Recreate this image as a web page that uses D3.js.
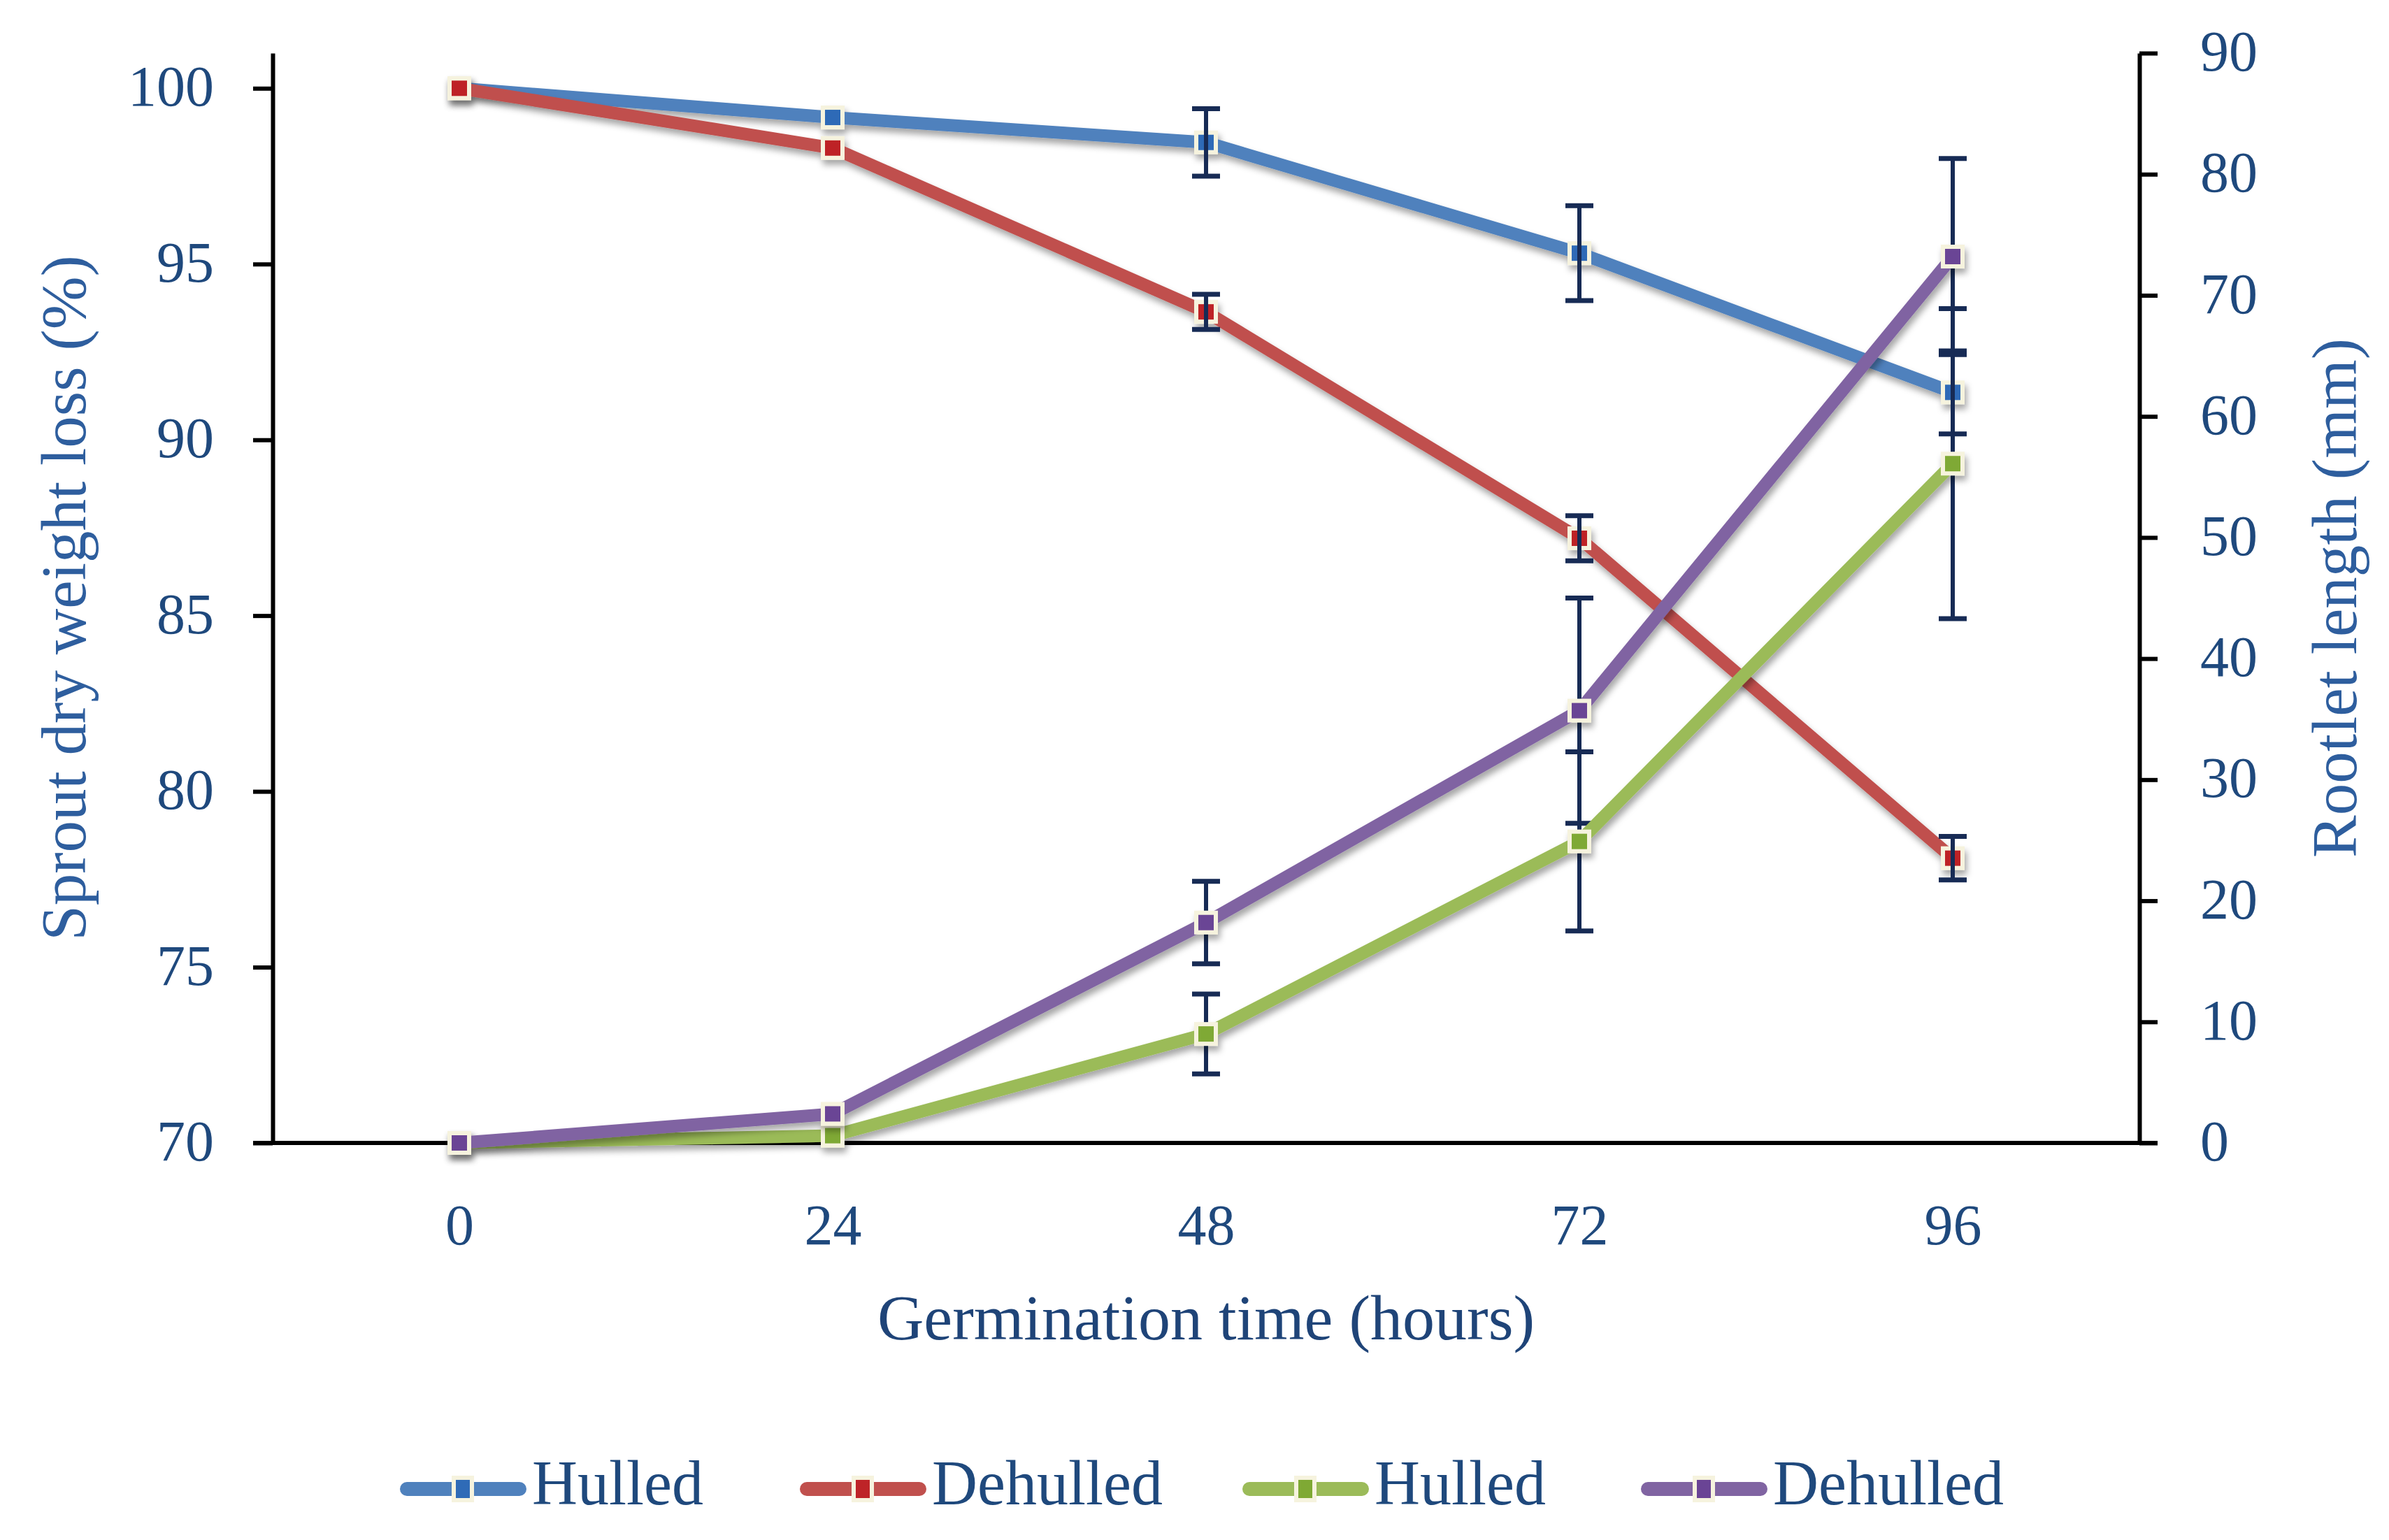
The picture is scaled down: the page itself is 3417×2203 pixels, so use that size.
<!DOCTYPE html>
<html>
<head>
<meta charset="utf-8">
<title>sprout weight loss and rootlet length</title>
<script src="https://cdn.jsdelivr.net/npm/d3@7"></script>
<style>
  body { margin: 0; background: #fff; }
  text { font-family: "Palatino Linotype", "Book Antiqua", Palatino, "Liberation Serif", serif; }
</style>
</head>
<body>
<script>
// data
var hours = ["0", "24", "48", "72", "96"];
var hulledLoss      = [100, 99.17, 98.46, 95.31, 91.35];
var hulledLossErr   = [0, 0, 0.96, 1.35, 1.18];
var dehulledLoss    = [100, 98.3, 93.64, 87.2, 78.1];
var dehulledLossErr = [0, 0, 0.5, 0.64, 0.62];
var hulledRoot      = [0, 0.6, 9.0, 24.9, 56.1];
var hulledRootErr   = [0, 0, 3.3, 7.4, 12.8];
var dehulledRoot    = [0, 2.4, 18.2, 35.7, 73.2];
var dehulledRootErr = [0, 0, 3.4, 9.3, 8.1];
var leftTicks  = [70, 75, 80, 85, 90, 95, 100];
var rightTicks = [0, 10, 20, 30, 40, 50, 60, 70, 80, 90];
var legendNames = ["Hulled", "Dehulled", "Hulled", "Dehulled"];

var width = 3417, height = 2203;
var plot = {left: 390, right: 3060, top: 76, bottom: 1635};

var svg = d3.select("body").append("svg")
    .attr("width", width).attr("height", height);

svg.append("rect").attr("width", width).attr("height", height).attr("fill", "#fff");

var defs = svg.append("defs");
defs.append("filter").attr("id", "shadow")
    .attr("x", "-10%").attr("y", "-10%").attr("width", "120%").attr("height", "130%")
  .append("feDropShadow")
    .attr("dx", 3).attr("dy", 7).attr("stdDeviation", 5)
    .attr("flood-color", "#000").attr("flood-opacity", 0.35);

var x = d3.scalePoint().domain(hours).range([plot.left, plot.right]).padding(0.5);
var yL = d3.scaleLinear().domain([70, 101]).range([plot.bottom, plot.top]);
var yR = d3.scaleLinear().domain([0, 90]).range([plot.bottom, plot.top]);

var series = [
  {name: legendNames[0], vals: hulledLoss,   err: hulledLossErr,   y: yL, line: "#4F81BD", mark: "#2F6BB7"},
  {name: legendNames[1], vals: dehulledLoss, err: dehulledLossErr, y: yL, line: "#C0504D", mark: "#BE2428"},
  {name: legendNames[2], vals: hulledRoot,   err: hulledRootErr,   y: yR, line: "#9BBB59", mark: "#7FA934"},
  {name: legendNames[3], vals: dehulledRoot, err: dehulledRootErr, y: yR, line: "#8064A2", mark: "#6A4495"}
];

var tickColor = "#1F497D", titleColor = "#2E5E9E", errColor = "#172B55";

// axes
var axL = svg.append("g").attr("transform", "translate(" + plot.left + ",0)")
  .call(d3.axisLeft(yL).tickValues(leftTicks).tickSize(28).tickSizeOuter(0).tickPadding(56));
var axR = svg.append("g").attr("transform", "translate(" + plot.right + ",0)")
  .call(d3.axisRight(yR).tickValues(rightTicks).tickSize(26).tickSizeOuter(0).tickPadding(61));
var axX = svg.append("g").attr("transform", "translate(0," + plot.bottom + ")")
  .call(d3.axisBottom(x).tickSize(0).tickPadding(87));

[axL, axR, axX].forEach(function(g) {
  g.select(".domain").attr("stroke", "#000").attr("stroke-width", 6);
  g.selectAll(".tick line").attr("stroke", "#000").attr("stroke-width", 6);
  g.selectAll(".tick text").attr("fill", tickColor).attr("font-size", 82)
    .style("font-family", "'Palatino Linotype','Book Antiqua',Palatino,'Liberation Serif',serif");
});
axL.selectAll(".tick text").attr("dy", "0.3em");
axR.selectAll(".tick text").attr("dy", "0.3em");
// x-axis line starts at the left axis
axX.select(".domain").attr("d", "M" + (plot.left - 28) + ",0H" + (plot.right + 26));

// axis titles
svg.append("text")
  .attr("transform", "translate(122," + ((plot.top + plot.bottom) / 2) + ") rotate(-90)")
  .attr("text-anchor", "middle").attr("font-size", 91).attr("fill", titleColor)
  .text("Sprout dry weight loss (%)");
svg.append("text")
  .attr("transform", "translate(3370," + ((plot.top + plot.bottom) / 2) + ") rotate(-90)")
  .attr("text-anchor", "middle").attr("font-size", 91).attr("fill", titleColor)
  .text("Rootlet length (mm)");
svg.append("text")
  .attr("x", (plot.left + plot.right) / 2).attr("y", 1916)
  .attr("text-anchor", "middle").attr("font-size", 92).attr("fill", "#1F4478")
  .text("Germination time (hours)");

function drawSeries(s) {
  var pts = s.vals.map(function(v, i) { return [x(hours[i]), s.y(v)]; });
  var g = svg.append("g").attr("filter", "url(#shadow)");
  g.append("path")
    .attr("d", d3.line()(pts))
    .attr("fill", "none").attr("stroke", s.line).attr("stroke-width", 18)
    .attr("stroke-linejoin", "round");
  g.selectAll("rect").data(pts).enter().append("rect")
    .attr("x", function(d) { return d[0] - 14; })
    .attr("y", function(d) { return d[1] - 14; })
    .attr("width", 28).attr("height", 28)
    .attr("fill", s.mark).attr("stroke", "#F6F3DE").attr("stroke-width", 6);
}

function drawErrors(s) {
  var g = svg.append("g");
  s.vals.forEach(function(v, i) {
    var e = s.err[i];
    if (!e) return;
    var cx = x(hours[i]), y1 = s.y(v + e), y2 = s.y(v - e);
    g.append("line").attr("x1", cx).attr("x2", cx).attr("y1", y1).attr("y2", y2)
      .attr("stroke", errColor).attr("stroke-width", 6);
    [y1, y2].forEach(function(yy) {
      g.append("line").attr("x1", cx - 20).attr("x2", cx + 20).attr("y1", yy).attr("y2", yy)
        .attr("stroke", errColor).attr("stroke-width", 7);
    });
  });
}

drawSeries(series[0]);
drawSeries(series[1]);
drawErrors(series[0]);
drawErrors(series[1]);
drawErrors(series[2]);
drawErrors(series[3]);
drawSeries(series[2]);
drawSeries(series[3]);

// legend
var legendX = [573, 1145, 1778, 2348];
var legendY = 2130;
series.forEach(function(s, i) {
  var g = svg.append("g").attr("transform", "translate(" + legendX[i] + "," + legendY + ")");
  g.append("line").attr("x1", 9).attr("x2", 170).attr("y1", 0).attr("y2", 0)
    .attr("stroke", s.line).attr("stroke-width", 20).attr("stroke-linecap", "round");
  g.append("rect").attr("x", 76).attr("y", -16).attr("width", 26).attr("height", 32)
    .attr("fill", s.mark).attr("stroke", "#F6F3DE").attr("stroke-width", 6);
  g.append("text").attr("x", 188).attr("y", 22)
    .attr("font-size", 90).attr("fill", tickColor).text(s.name);
});
</script>
</body>
</html>
